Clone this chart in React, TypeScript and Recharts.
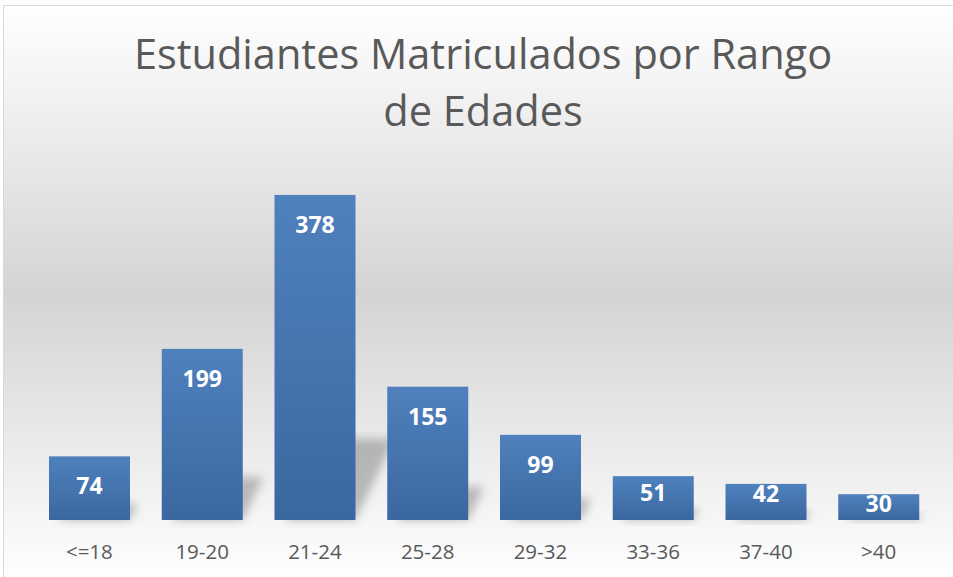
import { Bar, BarChart, LabelList, XAxis, YAxis } from 'recharts';

const categories = ['<=18', '19-20', '21-24', '25-28', '29-32', '33-36', '37-40', '>40'];
const students = [74, 199, 378, 155, 99, 51, 42, 30];
const titleLines = ['Estudiantes Matriculados por Rango', 'de Edades'];

const data = categories.map((name, i) => ({ name, students: students[i] }));

const FONT = '"Open Sans", "Noto Sans", sans-serif';

// bar with the soft perspective shadow Excel puts behind it
const ShadowBar = (props: any) => {
  const { x, y, width, height } = props;
  if (!height || height <= 0) return null;
  const base = y + height;
  const sh = height * 0.25;
  const sk = height * 0.12;
  const pts = [
    [x + 10, base],
    [x + width, base],
    [x + width + sk, base - sh],
    [x + 10 + sk, base - sh],
  ]
    .map((p) => p.join(','))
    .join(' ');
  return (
    <g>
      <polygon points={pts} fill='#7f7f7f' opacity={0.5} filter='url(#shadowBlur)' />
      <rect x={x} y={y} width={width} height={height} fill='url(#barGrad)' />
    </g>
  );
};

const InsideLabel = (props: any) => {
  const { x, y, width, height, value } = props;
  const off = Math.max(9, Math.min(29, height - 28));
  return (
    <text
      x={x + width / 2}
      y={y + off}
      textAnchor='middle'
      dominantBaseline='central'
      fill='#ffffff'
      fontFamily={FONT}
      fontWeight={700}
      fontSize={23}
    >
      {value}
    </text>
  );
};

export default function App() {
  return (
    <div style={{ position: 'absolute', left: 0, top: 0, width: 953, height: 577, overflow: 'hidden' }}>
      <div
        style={{
          position: 'absolute',
          left: 3,
          top: 5,
          width: 980,
          height: 600,
          border: '1px solid #d9d9d9',
          background: 'linear-gradient(to bottom, #ffffff 0%, #d4d4d4 48%, #ffffff 96%)',
        }}
      />
      <div
        style={{
          position: 'absolute',
          left: 0,
          top: 25,
          width: 966,
          textAlign: 'center',
          fontFamily: FONT,
          fontSize: 41.5,
          lineHeight: '57px',
          color: '#595959',
        }}
      >
        {titleLines.map((t) => (
          <div key={t}>{t}</div>
        ))}
      </div>
      <div style={{ position: 'absolute', left: 0, top: 0 }}>
        <BarChart width={953} height={577} data={data} margin={{ top: 176, right: 18, bottom: 0, left: 33 }}>
          <defs>
            <linearGradient id='barGrad' x1='0' y1='0' x2='0' y2='1'>
              <stop offset='0%' stopColor='#4f81bd' />
              <stop offset='100%' stopColor='#3b67a0' />
            </linearGradient>
            <filter id='shadowBlur' x='-50%' y='-50%' width='200%' height='200%'>
              <feGaussianBlur stdDeviation='5' />
            </filter>
          </defs>
          <XAxis
            dataKey='name'
            axisLine={false}
            tickLine={false}
            tickSize={0}
            tickMargin={24}
            height={57}
            interval={0}
            tick={{ fill: '#595959', fontSize: 20.5, fontFamily: FONT }}
          />
          <YAxis hide domain={[0, 400]} />
          <Bar dataKey='students' barSize={81} shape={<ShadowBar />} isAnimationActive={false}>
            <LabelList dataKey='students' content={<InsideLabel />} />
          </Bar>
        </BarChart>
      </div>
    </div>
  );
}
